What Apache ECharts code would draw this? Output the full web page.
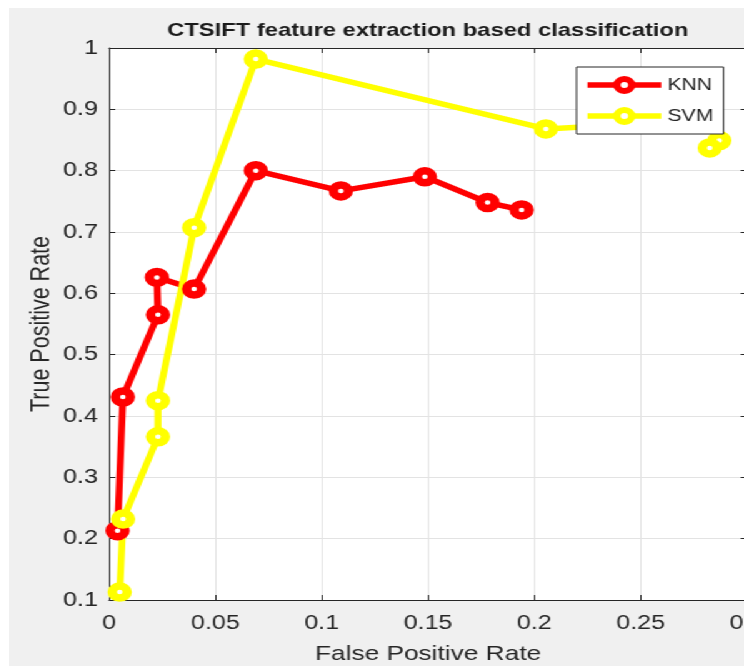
<!DOCTYPE html>
<html>
<head>
<meta charset="utf-8">
<script src="https://cdn.jsdelivr.net/npm/echarts@6.0.0/dist/echarts.min.js"></script>
<style>
  html, body { margin: 0; padding: 0; background: #fff; overflow: hidden; }
  /* the reference figure is stretched sideways, so draw narrow and widen */
  #chart {
    position: absolute; left: 9px; top: 8px;
    width: 588px; height: 658px; background: #f0f0f0;
    transform: scaleX(1.25); transform-origin: 0 0;
  }
</style>
</head>
<body>
<div id="chart"></div>
<script>
const knnFpr = [0.004, 0.0065, 0.023, 0.0225, 0.040, 0.069, 0.109, 0.1485, 0.178, 0.194];
const knnTpr = [0.213, 0.431, 0.565, 0.626, 0.607, 0.800, 0.767, 0.790, 0.748, 0.736];
const svmFpr = [0.005, 0.0066, 0.023, 0.023, 0.040, 0.069, 0.2054, 0.279, 0.287, 0.2825];
const svmTpr = [0.113, 0.232, 0.366, 0.425, 0.707, 0.982, 0.868, 0.882, 0.849, 0.837];

const font = "'Liberation Sans', Arial, sans-serif";
const ink = "#262626";

const chart = echarts.init(document.getElementById("chart"));

const fmt = (v) => String(parseFloat(v.toFixed(2)));

const boxAxis = (extra) => Object.assign({
  type: "value",
  axisLine: { show: true, onZero: false, lineStyle: { color: ink, width: 1 } },
  axisTick: { show: true, inside: true, length: 5, lineStyle: { color: ink } },
  splitLine: { show: false },
}, extra);

chart.setOption({
  animation: false,
  textStyle: { fontFamily: font },
  title: {
    text: "CTSIFT feature extraction based classification",
    left: 335,
    top: 13,
    padding: 0,
    textAlign: "center",
    textStyle: { fontFamily: font, fontSize: 19, fontWeight: "bold", color: "#1a1a1a" },
  },
  legend: {
    orient: "vertical",
    left: 454,
    top: 59,
    padding: [9, 8, 9, 6],
    itemWidth: 59,
    itemHeight: 15,
    itemGap: 13,
    backgroundColor: "#fff",
    borderColor: ink,
    borderWidth: 1,
    borderRadius: 0,
    lineStyle: { width: 5.5 },
    itemStyle: { borderWidth: 6 },
    textStyle: { fontFamily: font, fontSize: 17, color: ink },
    data: ["KNN", "SVM"],
  },
  grid: {
    left: 80, top: 40, right: -2.4, bottom: 66,
    outerBoundsMode: "none",
    show: true, backgroundColor: "#fff", borderWidth: 0,
  },
  xAxis: [
    boxAxis({
      min: 0, max: 0.3, interval: 0.05,
      name: "False Positive Rate",
      nameLocation: "middle",
      nameGap: 44,
      nameMoveOverlap: false,
      nameTextStyle: { fontFamily: font, fontSize: 21, color: ink },
      axisLabel: { margin: 13, fontFamily: font, fontSize: 20, color: ink, formatter: fmt },
      splitLine: { show: true, lineStyle: { color: "#e3e3e3", width: 1 } },
    }),
    boxAxis({ position: "top", min: 0, max: 0.3, interval: 0.05, axisLabel: { show: false } }),
  ],
  yAxis: [
    boxAxis({
      min: 0.1, max: 1, interval: 0.1,
      name: "True Positive Rate",
      nameLocation: "middle",
      nameGap: 43,
      nameMoveOverlap: false,
      nameTextStyle: { fontFamily: font, fontSize: 21.5, color: ink },
      axisLabel: { margin: 9, fontFamily: font, fontSize: 20, color: ink, formatter: fmt },
      splitLine: { show: true, lineStyle: { color: "#e3e3e3", width: 1 } },
    }),
    boxAxis({ position: "right", min: 0.1, max: 1, interval: 0.1, axisLabel: { show: false } }),
  ],
  series: [
    {
      name: "KNN",
      type: "line",
      clip: false,
      data: knnFpr.map((x, i) => [x, knnTpr[i]]),
      symbol: "circle",
      symbolSize: 12,
      lineStyle: { color: "#ff0000", width: 5.5 },
      itemStyle: { color: "#fff", borderColor: "#ff0000", borderWidth: 7.5 },
    },
    {
      name: "SVM",
      type: "line",
      clip: false,
      data: svmFpr.map((x, i) => [x, svmTpr[i]]),
      symbol: "circle",
      symbolSize: 12,
      lineStyle: { color: "#ffff00", width: 5.5 },
      itemStyle: { color: "#fff", borderColor: "#ffff00", borderWidth: 7.5 },
    },
  ],
});
</script>
</body>
</html>
